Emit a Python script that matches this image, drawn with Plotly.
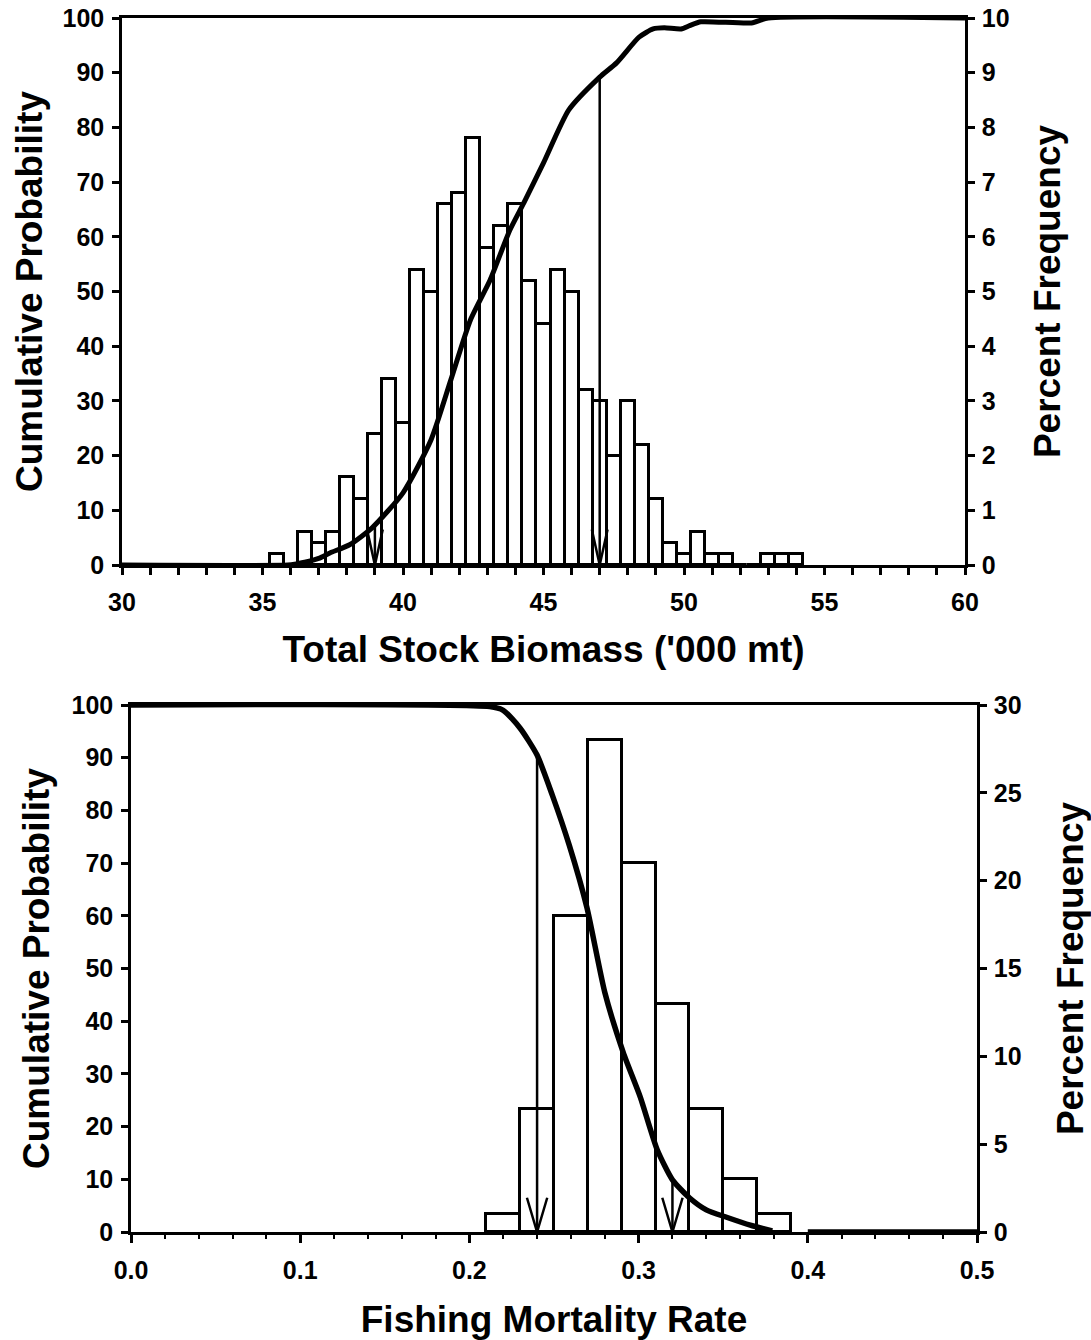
import plotly.graph_objects as go

# ---------------- Top panel: Total Stock Biomass ----------------
biomass_bins = [35.5, 36.0, 36.5, 37.0, 37.5, 38.0, 38.5, 39.0, 39.5, 40.0,
                40.5, 41.0, 41.5, 42.0, 42.5, 43.0, 43.5, 44.0, 44.5, 45.0,
                45.5, 46.0, 46.5, 47.0, 47.5, 48.0, 48.5, 49.0, 49.5, 50.0,
                50.5, 51.0, 51.5, 52.0, 52.5, 53.0, 53.5, 54.0]
biomass_freq = [0.2, 0.0, 0.6, 0.4, 0.6, 1.6, 1.2, 2.4, 3.4, 2.6,
                5.4, 5.0, 6.6, 6.8, 7.8, 5.8, 6.2, 6.6, 5.2, 4.4,
                5.4, 5.0, 3.2, 3.0, 2.0, 3.0, 2.2, 1.2, 0.4, 0.2,
                0.6, 0.2, 0.2, 0.0, 0.0, 0.2, 0.2, 0.2]
biomass_cum_x = [30.0, 35.9, 36.2, 36.5, 37.0, 37.4, 38.1, 38.9, 40.0, 41.0,
                 41.7, 42.4, 43.1, 43.8, 44.3, 45.0, 45.9, 47.0, 47.6, 48.4,
                 48.9, 49.3, 49.9, 50.2, 50.6, 52.4, 53.0, 60.0]
biomass_cum_y = [0.0, 0.0, 0.2, 0.5, 1.2, 2.2, 3.7, 6.8, 13.2, 22.9,
                 33.8, 44.8, 52.1, 61.2, 66.2, 73.5, 83.2, 89.2, 91.8, 96.5,
                 98.0, 98.2, 98.0, 98.6, 99.3, 99.1, 100.0, 100.0]
biomass_markers = [39.0, 47.0]
biomass_marker_cum = [7.0, 89.4]

# ---------------- Bottom panel: Fishing Mortality Rate ----------------
fmort_bins = [0.22, 0.24, 0.26, 0.28, 0.30, 0.32, 0.34, 0.36, 0.38]
fmort_freq = [1.0, 7.0, 18.0, 28.0, 21.0, 13.0, 7.0, 3.0, 1.0]
fmort_cum_x = [0.0, 0.212, 0.22, 0.23, 0.24, 0.249, 0.259, 0.2695, 0.28, 0.291,
               0.301, 0.311, 0.320, 0.330, 0.340, 0.352, 0.366, 0.379, None, 0.40, 0.50]
fmort_cum_y = [100.0, 99.7, 99.0, 95.6, 90.5, 82.9, 73.4, 61.5, 45.5, 34.0,
               25.6, 15.6, 9.9, 6.5, 4.2, 2.8, 1.3, 0.2, None, 0.0, 0.0]
fmort_markers = [0.24, 0.32]
fmort_marker_cum = [90.5, 9.9]

FONT = "Arial, Liberation Sans, sans-serif"
W, H = 1091, 1340

fig = go.Figure()

# Bars (primary axes, drawn first)
fig.add_trace(go.Bar(x=biomass_bins, y=biomass_freq, width=0.5,
                     marker=dict(color="white", line=dict(color="black", width=3)),
                     xaxis="x", yaxis="y", showlegend=False))
fig.add_trace(go.Bar(x=fmort_bins, y=fmort_freq, width=0.02,
                     marker=dict(color="white", line=dict(color="black", width=3)),
                     xaxis="x2", yaxis="y3", showlegend=False))


def drop_lines(xs, ys, half_w, head_h):
    lx, ly = [], []
    for x, y in zip(xs, ys):
        lx += [x, x, None, x - half_w, x, x + half_w, None]
        ly += [y, 0, None, head_h, 0, head_h, None]
    return lx, ly


# Cumulative curves and drop lines (overlaying axes, drawn on top)
tx, ty = drop_lines(biomass_markers, biomass_marker_cum, 0.28, 6.5)
fig.add_trace(go.Scatter(x=tx, y=ty, mode="lines", line=dict(color="black", width=2.5),
                         xaxis="x", yaxis="y2", showlegend=False, cliponaxis=False))
fig.add_trace(go.Scatter(x=biomass_cum_x, y=biomass_cum_y, mode="lines",
                         line=dict(color="black", width=5, shape="spline", smoothing=0.6),
                         xaxis="x", yaxis="y2", showlegend=False))

bx, by = drop_lines(fmort_markers, fmort_marker_cum, 0.006, 6.5)
fig.add_trace(go.Scatter(x=bx, y=by, mode="lines", line=dict(color="black", width=2.5),
                         xaxis="x2", yaxis="y4", showlegend=False, cliponaxis=False))
fig.add_trace(go.Scatter(x=fmort_cum_x, y=fmort_cum_y, mode="lines",
                         line=dict(color="black", width=5.5, shape="spline", smoothing=0.6),
                         xaxis="x2", yaxis="y4", showlegend=False))

tickfont = dict(family=FONT, size=25, color="black", weight="bold")
titlefont = dict(family=FONT, size=37, color="black", weight="bold")


def dx(px):
    return px / W


def dy(py):
    return (H - py) / H


top_x = [dx(122), dx(965)]
top_y = [dy(565), dy(18)]
bot_x = [dx(131), dx(977)]
bot_y = [dy(1232), dy(705)]

common_axis = dict(showgrid=False, zeroline=False, showline=True, linecolor="black",
                   linewidth=2.5, ticks="outside", tickcolor="black", tickwidth=2.5,
                   tickfont=tickfont, automargin=False, ticklabeloverflow="allow")

fig.update_layout(
    width=W, height=H,
    margin=dict(l=0, r=0, t=0, b=0),
    paper_bgcolor="white", plot_bgcolor="white",
    bargap=0,
    hovermode=False,
    xaxis=dict(domain=top_x, range=[30, 60], dtick=5, tick0=30, ticklen=7,
               anchor="y", mirror=True, ticklabelstandoff=6,
               minor=dict(dtick=1, ticks="outside", ticklen=7, tickwidth=2.5, tickcolor="black"),
               title=dict(text="Total Stock Biomass ('000 mt)", font=titlefont, standoff=22),
               **common_axis),
    yaxis=dict(domain=top_y, range=[0, 10], dtick=1, side="right", anchor="x", ticklen=7,
               ticklabelstandoff=2,
               title=dict(text="Percent Frequency", font=titlefont, standoff=26),
               **common_axis),
    yaxis2=dict(range=[0, 100], dtick=10, side="left", overlaying="y", anchor="x", ticklen=7,
                ticklabelstandoff=3,
                title=dict(text="Cumulative Probability", font=titlefont, standoff=9),
                **common_axis),
    xaxis2=dict(domain=bot_x, range=[0, 0.5], dtick=0.1, tick0=0, tickformat=".1f", ticklen=8,
                anchor="y3", mirror=True, ticklabelstandoff=6,
                minor=dict(dtick=0.02, ticks="outside", ticklen=4, tickwidth=2, tickcolor="black"),
                title=dict(text="Fishing Mortality Rate", font=titlefont, standoff=28),
                **common_axis),
    yaxis3=dict(domain=bot_y, range=[0, 30], dtick=5, side="right", anchor="x2", ticklen=7,
                ticklabelstandoff=2,
                title=dict(text="Percent Frequency", font=titlefont, standoff=38),
                **common_axis),
    yaxis4=dict(range=[0, 100], dtick=10, side="left", overlaying="y3", anchor="x2", ticklen=7,
                ticklabelstandoff=3,
                title=dict(text="Cumulative Probability", font=titlefont, standoff=11),
                **common_axis),
)

# Remove the default page margin so the figure fills the window exactly.
fig.write_html("out.html",
               config={"displayModeBar": False},
               post_script="document.body.style.margin='0';document.body.style.overflow='hidden';")
